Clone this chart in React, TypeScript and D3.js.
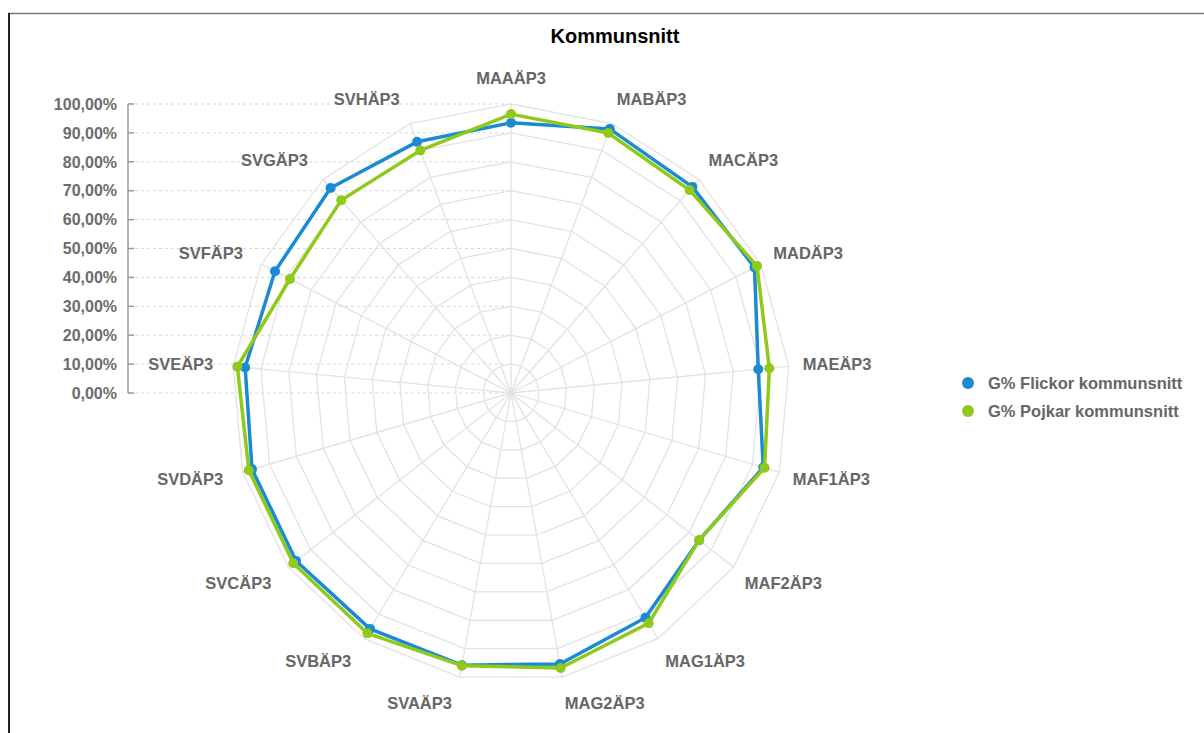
import React from "react";
import * as d3 from "d3";

const categories = [
  "MAAÄP3", "MABÄP3", "MACÄP3", "MADÄP3", "MAEÄP3", "MAF1ÄP3", "MAF2ÄP3", "MAG1ÄP3", "MAG2ÄP3",
  "SVAÄP3", "SVBÄP3", "SVCÄP3", "SVDÄP3", "SVEÄP3", "SVFÄP3", "SVGÄP3", "SVHÄP3",
];
const flickor = [93.5, 98, 96.5, 97.5, 89, 94, 84.5, 91.5, 95.4, 95.8, 96, 96.5, 96.5, 95.7, 94.5, 96, 93.2];
const pojkar = [96.5, 96.5, 95, 98.5, 93, 94.5, 84.5, 93.7, 96.8, 96, 97.8, 97.8, 97.7, 98.5, 88.5, 90.3, 90];
const yTicks = [0, 10, 20, 30, 40, 50, 60, 70, 80, 90, 100];
const seriesNames = ["G% Flickor kommunsnitt", "G% Pojkar kommunsnitt"];
const seriesColors = ["#1a8bd3", "#8fc919"];
const title = "Kommunsnitt";

const W = 1204;
const H = 733;
const cx = 511;
const cy = 393;
const rx = 279;
const ry = 289;
const FONT = "'Liberation Sans', Arial, sans-serif";

export default function App() {
  const n = categories.length;
  const angle = d3.scaleLinear().domain([0, n]).range([0, 2 * Math.PI]);
  const rX = d3.scaleLinear().domain([0, 100]).range([0, rx]);
  const rY = d3.scaleLinear().domain([0, 100]).range([0, ry]);
  const yAxis = d3.scaleLinear().domain([0, 100]).range([cy, cy - ry]);

  const pt = (i: number, v: number): [number, number] => {
    const a = angle(i);
    return [cx + rX(v) * Math.sin(a), cy - rY(v) * Math.cos(a)];
  };

  const ring = (v: number) => {
    const pts = categories.map((_, i) => pt(i, v));
    return d3.line().curve(d3.curveLinearClosed)(pts) || "";
  };

  const seriesPath = (vals: number[]) =>
    d3.line().curve(d3.curveLinearClosed)(vals.map((v, i) => pt(i, v))) || "";

  const series = [flickor, pojkar];

  return (
    <div style={{ position: "absolute", left: 0, top: 0 }}>
      <svg width={W} height={H} style={{ display: "block", background: "#fff" }}>
        {/* frame */}
        <line x1={8} y1={13.5} x2={W} y2={13.5} stroke="#777" strokeWidth={1.5} />
        <line x1={9} y1={13} x2={9} y2={H} stroke="#222" strokeWidth={2} />

        {/* title */}
        <text x={615} y={43} textAnchor="middle" fontFamily={FONT} fontWeight="bold" fontSize={20} fill="#000">
          {title}
        </text>

        {/* left y axis */}
        {yTicks.map((t) => (
          <g key={t}>
            <line x1={135} x2={cx} y1={yAxis(t)} y2={yAxis(t)} stroke="#d8d8d8" strokeWidth={1} strokeDasharray="3,3" />
            <line x1={128} x2={134} y1={yAxis(t)} y2={yAxis(t)} stroke="#999" strokeWidth={1.5} />
            <text x={117} y={yAxis(t)} dy="0.36em" textAnchor="end" fontFamily={FONT} fontWeight="bold" fontSize={16} fill="#6b6b6b">
              {d3.format(".2f")(t).replace(".", ",") + "%"}
            </text>
          </g>
        ))}
        <line x1={128} x2={128} y1={yAxis(100)} y2={yAxis(0)} stroke="#999" strokeWidth={1.5} />

        {/* spider web grid */}
        {yTicks.filter((t) => t > 0).map((t) => (
          <path key={t} d={ring(t)} fill="none" stroke="#e2e2e2" strokeWidth={1.3} />
        ))}
        {categories.map((c, i) => {
          const [x, y] = pt(i, 100);
          return <line key={c} x1={cx} y1={cy} x2={x} y2={y} stroke="#e2e2e2" strokeWidth={1.3} />;
        })}

        {/* category labels */}
        {categories.map((c, i) => {
          const a = angle(i);
          const s = Math.sin(a);
          const co = Math.cos(a);
          const [vx, vy] = pt(i, 100);
          let anchor = "middle";
          let x = vx;
          if (s > 0.01) {
            anchor = "start";
            x = vx + 14 * s;
          } else if (s < -0.01) {
            anchor = "end";
            x = vx - (5 + 15 * Math.abs(s));
          }
          const y = vy - 26 * co;
          return (
            <text key={c} x={x} y={y} dy="0.36em" textAnchor={anchor} fontFamily={FONT} fontWeight="bold" fontSize={16.5} fill="#666">
              {c}
            </text>
          );
        })}

        {/* series */}
        {series.map((vals, si) => (
          <g key={si}>
            <path d={seriesPath(vals)} fill="none" stroke={seriesColors[si]} strokeWidth={3.5} strokeLinejoin="round" />
            {vals.map((v, i) => {
              const [x, y] = pt(i, v);
              return <circle key={i} cx={x} cy={y} r={5} fill={seriesColors[si]} />;
            })}
          </g>
        ))}

        {/* legend */}
        {seriesNames.map((name, i) => (
          <g key={name} transform={`translate(968, ${383 + i * 28})`}>
            <circle cx={0} cy={0} r={6} fill={seriesColors[i]} />
            <text x={20} y={0} dy="0.36em" fontFamily={FONT} fontWeight="bold" fontSize={16.5} fill="#666">
              {name}
            </text>
          </g>
        ))}
      </svg>
    </div>
  );
}
